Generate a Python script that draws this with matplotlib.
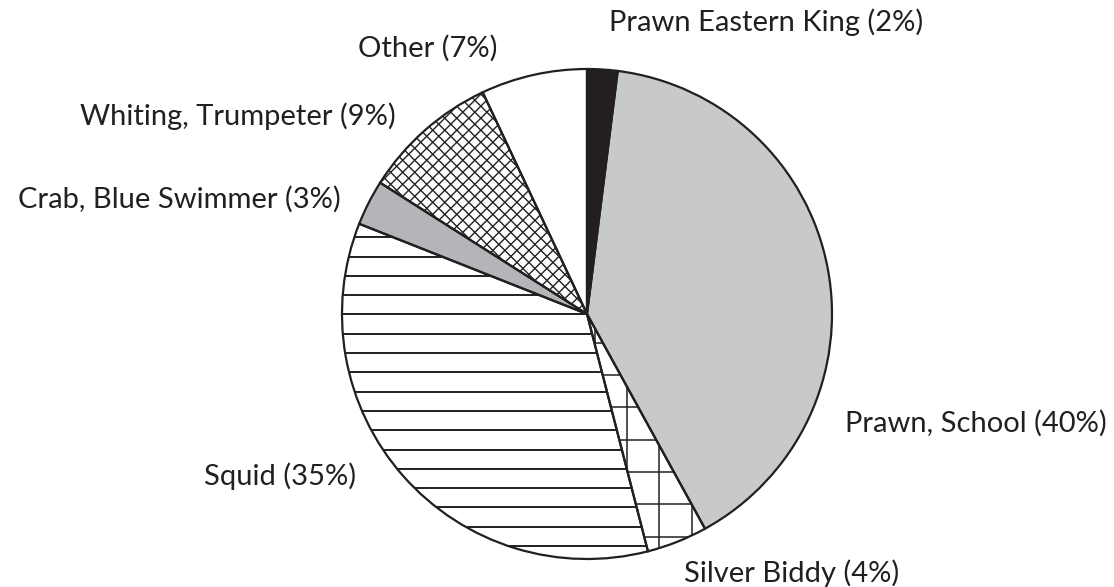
import numpy as np
import matplotlib
matplotlib.use("Agg")
import matplotlib.pyplot as plt
from matplotlib.collections import LineCollection

plt.rcParams['font.family'] = ['Lato', 'DejaVu Sans']

# catch composition, clockwise from 12 o'clock
species = ['Prawn Eastern King', 'Prawn, School', 'Silver Biddy', 'Squid',
           'Crab, Blue Swimmer', 'Whiting, Trumpeter', 'Other']
shares = [2, 40, 4, 35, 3, 9, 7]

fills = ['#231f20', '#c8c9cb', 'white', 'white', '#b4b5b8', 'white', 'white']
ink = '#231f20'

# label anchors in pixel space (x, baseline); right-side labels hang off
# their left edge, left-side labels off their right edge
label_xy = [(609, 31), (845, 432), (684, 582), (356, 485),
            (341, 208), (396, 125), (498, 57)]
label_ha = ['left', 'left', 'left', 'right', 'right', 'right', 'right']

W, H = 1114, 587
fig = plt.figure(figsize=(W / 100, H / 100), dpi=100)
ax = fig.add_axes([0, 0, 1, 1])

cx, cy, r = 587, H - 314, 245

wedges, _ = ax.pie(shares, colors=fills, startangle=90, counterclock=False,
                   center=(cx, cy), radius=r, frame=True,
                   wedgeprops=dict(linewidth=0, edgecolor='none'))


def hatch(wedge, angle, spacing, offset, lw=1.0):
    """Parallel lines at `angle` degrees, clipped to the wedge."""
    a = np.deg2rad(angle)
    d = np.array([np.cos(a), np.sin(a)])
    n = np.array([-np.sin(a), np.cos(a)])
    c0 = n @ np.array([cx, cy])
    k0 = np.floor((c0 - r - offset) / spacing) - 1
    k1 = np.ceil((c0 + r - offset) / spacing) + 1
    segs = []
    for k in np.arange(k0, k1 + 1):
        c = offset + k * spacing
        base = c * n + (d @ np.array([cx, cy])) * d
        segs.append([base - 2 * r * d, base + 2 * r * d])
    lc = LineCollection(segs, colors=ink, linewidths=lw, zorder=2)
    ax.add_collection(lc)
    lc.set_clip_path(wedge)


# Squid: horizontal rules
hatch(wedges[3], 0, 19.3, H - 546, lw=1.4)
# Silver Biddy: square grid
hatch(wedges[2], 0, 32.3, H - 472, lw=1.1)
hatch(wedges[2], 90, 32.3, -627, lw=1.1)
# Whiting: fine diagonal cross-hatch
hatch(wedges[5], 45, 8.5, 0, lw=1.0)
hatch(wedges[5], -45, 8.5, 0, lw=1.0)

# outlines drawn over the hatching
outline, _ = ax.pie(shares, colors=['none'] * len(shares), startangle=90,
                    counterclock=False, center=(cx, cy), radius=r, frame=True,
                    wedgeprops=dict(linewidth=1.6, edgecolor=ink, fill=False))
for w in outline:
    w.set_zorder(3)

for name, pct, (x, y), ha in zip(species, shares, label_xy, label_ha):
    ax.text(x, H - y, f"{name} ({pct}%)", ha=ha, va='baseline',
            fontsize=21, color=ink)

ax.set_xlim(0, W)
ax.set_ylim(0, H)
ax.set_aspect('equal')
ax.axis('off')

fig.savefig('out.png', dpi=100, facecolor='white')
